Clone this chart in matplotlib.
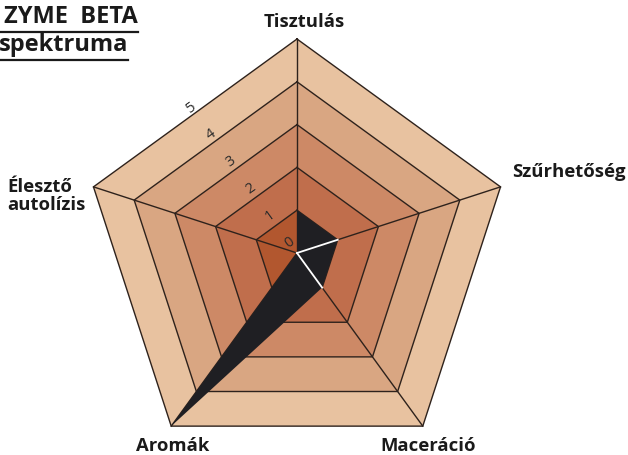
"""
Radar chart (pentagon) - enzyme spektrum
"""
import numpy as np
import matplotlib
matplotlib.use('Agg')
import matplotlib.pyplot as plt

plt.rcParams['font.family'] = ['Open Sans', 'DejaVu Sans']

# data
categories = ['Tisztulás', 'Szűrhetőség', 'Maceráció', 'Aromák', 'Élesztő\nautolízis']
values = [1, 1, 1, 5, 0]
levels = [0, 1, 2, 3, 4, 5]
band_colors = ['#b2572f', '#c06e4c', '#cd8966', '#d9a682', '#e8c2a0']
series_color = '#1f1f23'

W, H = 628, 455
scale = 42.8          # pixel / egység
cx, cy = 297, 253     # középpont pixelben

fig = plt.figure(figsize=(W / 100, H / 100), dpi=100)
ax = fig.add_axes([0, 0, 1, 1])
ax.set_xlim(-cx / scale, (W - cx) / scale)
ax.set_ylim(-(H - cy) / scale, cy / scale)
ax.axis('off')

n = len(categories)
ang = np.pi / 2 - np.arange(n) * 2 * np.pi / n


def pent(r):
    return np.cos(ang) * r, np.sin(ang) * r


# sávok kívülről befelé
for k in range(len(levels) - 1, 0, -1):
    x, y = pent(levels[k])
    ax.fill(x, y, color=band_colors[k - 1], lw=0, zorder=1)
    ax.plot(np.append(x, x[0]), np.append(y, y[0]), color='#2e221c', lw=1.0, zorder=2)

# küllők
xo, yo = pent(levels[-1])
for i in range(n):
    ax.plot([0, xo[i]], [0, yo[i]], color='#2e221c', lw=1.0, zorder=2)

# adatsor
xv, yv = pent(np.array(values, dtype=float))
ax.fill(xv, yv, color=series_color, lw=0, zorder=3)
for i in range(n):
    if values[i] > 0 and values[i - 1] > 0 and values[(i + 1) % n] > 0:
        ax.plot([0, xv[i]], [0, yv[i]], color='white', lw=1.3, zorder=4)

# skála feliratok
a_mid = np.pi / 2 + np.pi / n
for lv in levels:
    d = 0.78 * lv + 0.3
    ax.text(np.cos(a_mid) * d, np.sin(a_mid) * d, str(lv), rotation=36,
            ha='center', va='center', fontsize=10.5, color='#2a2a2a', zorder=5)


def ftxt(px, py, s, **kw):
    fig.text(px / W, 1 - py / H, s, **kw)


lab = dict(fontsize=13.3, fontweight='bold', color='#1a1a1a')
ftxt(304, 22, categories[0], ha='center', va='center', **lab)
ftxt(512, 172, categories[1], ha='left', va='center', **lab)
ftxt(428, 446, categories[2], ha='center', va='center', **lab)
ftxt(173, 446, categories[3], ha='center', va='center', **lab)
ftxt(7, 196, categories[4], ha='left', va='center', linespacing=1.05, **lab)

# cím (balra kilóg)
tit = dict(fontsize=17, fontweight='bold', color='#1a1a1a', ha='right', va='center')
ftxt(138, 17, 'ZYME  BETA', **tit)
ftxt(128, 45, 'spektruma', **tit)
fig.add_artist(plt.Line2D([0, 138 / W], [1 - 32 / H] * 2, color='#1a1a1a', lw=1.6))
fig.add_artist(plt.Line2D([0, 128 / W], [1 - 60 / H] * 2, color='#1a1a1a', lw=1.6))

fig.savefig('out.png', dpi=100)
